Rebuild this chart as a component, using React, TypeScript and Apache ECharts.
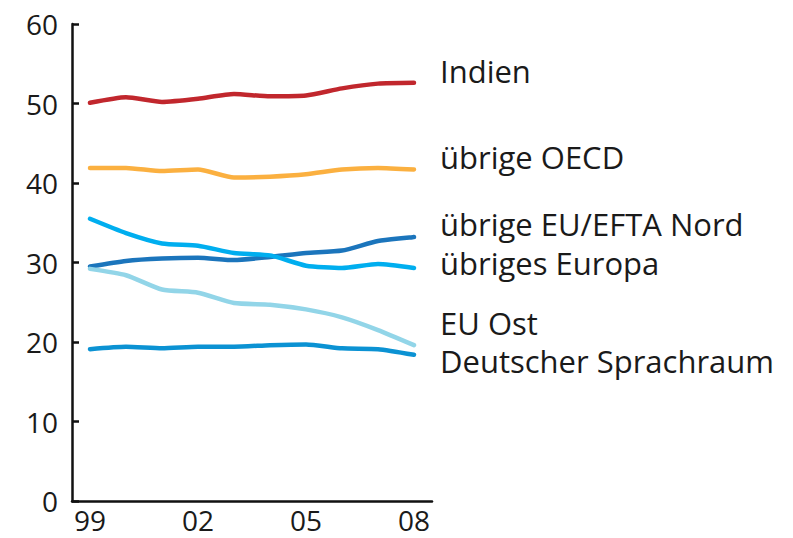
import React, { useEffect, useRef } from "react";
import * as echarts from "echarts";

const years = ["99", "00", "01", "02", "03", "04", "05", "06", "07", "08"];
const yTicks = { min: 0, max: 60, interval: 10 };

const seriesNames = [
  "Indien",
  "übrige OECD",
  "übrige EU/EFTA Nord",
  "übriges Europa",
  "EU Ost",
  "Deutscher Sprachraum",
];
const indien = [50.1, 50.8, 50.2, 50.6, 51.2, 50.9, 51.0, 51.9, 52.5, 52.6];
const uebrigeOECD = [41.9, 41.9, 41.5, 41.7, 40.7, 40.8, 41.1, 41.7, 41.9, 41.7];
const euEftaNord = [29.5, 30.2, 30.5, 30.6, 30.3, 30.7, 31.2, 31.5, 32.7, 33.2];
const uebrigesEuropa = [35.5, 33.7, 32.4, 32.1, 31.2, 30.9, 29.6, 29.3, 29.8, 29.3];
const euOst = [29.2, 28.4, 26.6, 26.2, 24.9, 24.7, 24.1, 23.1, 21.5, 19.6];
const deutscherSprachraum = [19.1, 19.4, 19.2, 19.4, 19.4, 19.6, 19.7, 19.2, 19.1, 18.4];

const seriesData = [indien, uebrigeOECD, euEftaNord, uebrigesEuropa, euOst, deutscherSprachraum];
const colors = ["#c1272d", "#fbb040", "#1b75bc", "#00aeef", "#92d5e8", "#0b92d3"];
const labelY = [76, 162, 229, 268, 328, 366];

const FONT = '"Open Sans", "Noto Sans", sans-serif';

export default function App() {
  const ref = useRef<HTMLDivElement>(null);
  useEffect(() => {
    if (!ref.current) return;
    const chart = echarts.init(ref.current, null, { renderer: "svg" });
    chart.setOption({
      animation: false,
      backgroundColor: "#ffffff",
      grid: { left: 72, right: 361, top: 24, bottom: 37, containLabel: false },
      xAxis: {
        type: "category",
        data: years,
        boundaryGap: true,
        axisLine: { lineStyle: { color: "#111", width: 2.5 } },
        axisTick: { inside: true, length: 7, interval: 0, lineStyle: { color: "#111", width: 2.5 } },
        axisLabel: { interval: 2, color: "#1a1a1a", fontSize: 28, fontFamily: FONT, margin: 5 },
        splitLine: { show: false },
      },
      yAxis: {
        type: "value",
        min: yTicks.min,
        max: yTicks.max,
        interval: yTicks.interval,
        axisLine: { show: true, lineStyle: { color: "#111", width: 2.5 } },
        axisTick: { show: true, inside: true, length: 7, lineStyle: { color: "#111", width: 2.5 } },
        axisLabel: { color: "#1a1a1a", fontSize: 28, fontFamily: FONT, margin: 14 },
        splitLine: { show: false },
      },
      series: seriesData.map((d, i) => ({
        name: seriesNames[i],
        type: "line",
        data: d,
        smooth: 0.2,
        symbol: "none",
        lineStyle: { color: colors[i], width: 4.5, cap: "round", join: "round" },
        z: 3,
      })),
      graphic: seriesNames.map((n, i) => ({
        type: "text",
        left: 440,
        top: labelY[i] - 21,
        style: {
          text: n,
          fill: "#1a1a1a",
          fontSize: 31,
          fontFamily: FONT,
        },
      })),
    });
    return () => chart.dispose();
  }, []);
  return (
    <div
      ref={ref}
      style={{ position: "absolute", left: 0, top: 0, width: 793, height: 538 }}
    />
  );
}
